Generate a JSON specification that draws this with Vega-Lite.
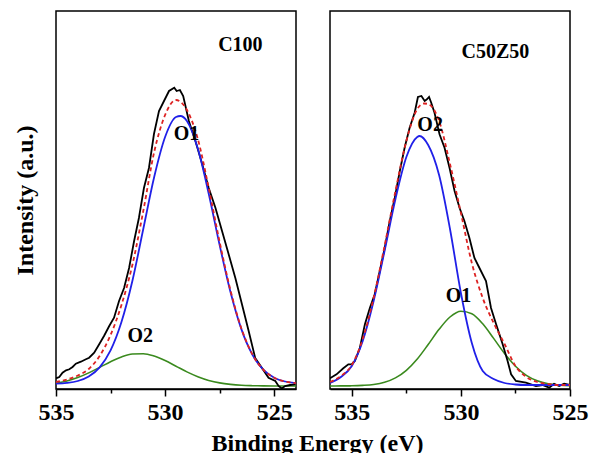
{
  "$schema": "https://vega.github.io/schema/vega-lite/v6.json",
  "background": "white",
  "padding": {"left": 12, "top": 10, "right": 0, "bottom": 0},
  "bounds": "flush",
  "spacing": 34,
  "config": {
    "view": {"stroke": "black", "strokeWidth": 1.5},
    "font": "Liberation Serif",
    "axis": {
      "grid": false,
      "labelFont": "Liberation Serif",
      "labelFontWeight": "bold",
      "labelFontSize": 24,
      "labelColor": "black",
      "titleFont": "Liberation Serif",
      "titleFontWeight": "bold",
      "titleFontSize": 24,
      "titleColor": "black",
      "domainColor": "black",
      "domainWidth": 1.5,
      "tickColor": "black",
      "tickWidth": 1.5
    }
  },
  "datasets": {
    "c100": [
      {"series": "measured", "energy": 535.00, "intensity": 10.7},
      {"series": "measured", "energy": 534.85, "intensity": 12.0},
      {"series": "measured", "energy": 534.70, "intensity": 16.3},
      {"series": "measured", "energy": 534.54, "intensity": 18.7},
      {"series": "measured", "energy": 534.39, "intensity": 19.7},
      {"series": "measured", "energy": 534.24, "intensity": 22.0},
      {"series": "measured", "energy": 534.09, "intensity": 25.3},
      {"series": "measured", "energy": 533.86, "intensity": 27.3},
      {"series": "measured", "energy": 533.63, "intensity": 29.7},
      {"series": "measured", "energy": 533.48, "intensity": 31.3},
      {"series": "measured", "energy": 533.25, "intensity": 36.3},
      {"series": "measured", "energy": 533.02, "intensity": 44.7},
      {"series": "measured", "energy": 532.80, "intensity": 53.0},
      {"series": "measured", "energy": 532.56, "intensity": 63.0},
      {"series": "measured", "energy": 532.34, "intensity": 71.3},
      {"series": "measured", "energy": 532.11, "intensity": 88.0},
      {"series": "measured", "energy": 531.88, "intensity": 101.0},
      {"series": "measured", "energy": 531.65, "intensity": 121.0},
      {"series": "measured", "energy": 531.42, "intensity": 148.0},
      {"series": "measured", "energy": 531.20, "intensity": 171.0},
      {"series": "measured", "energy": 530.97, "intensity": 201.0},
      {"series": "measured", "energy": 530.74, "intensity": 221.0},
      {"series": "measured", "energy": 530.51, "intensity": 255.0},
      {"series": "measured", "energy": 530.28, "intensity": 278.0},
      {"series": "measured", "energy": 530.05, "intensity": 288.0},
      {"series": "measured", "energy": 529.82, "intensity": 298.0},
      {"series": "measured", "energy": 529.58, "intensity": 301.3},
      {"series": "measured", "energy": 529.47, "intensity": 298.0},
      {"series": "measured", "energy": 529.32, "intensity": 299.0},
      {"series": "measured", "energy": 529.17, "intensity": 293.0},
      {"series": "measured", "energy": 528.91, "intensity": 268.0},
      {"series": "measured", "energy": 528.61, "intensity": 248.0},
      {"series": "measured", "energy": 528.30, "intensity": 225.0},
      {"series": "measured", "energy": 528.00, "intensity": 201.0},
      {"series": "measured", "energy": 527.69, "intensity": 181.0},
      {"series": "measured", "energy": 527.39, "intensity": 158.0},
      {"series": "measured", "energy": 527.09, "intensity": 135.0},
      {"series": "measured", "energy": 526.78, "intensity": 111.0},
      {"series": "measured", "energy": 526.48, "intensity": 85.0},
      {"series": "measured", "energy": 526.17, "intensity": 58.0},
      {"series": "measured", "energy": 525.87, "intensity": 31.0},
      {"series": "measured", "energy": 525.56, "intensity": 21.0},
      {"series": "measured", "energy": 525.26, "intensity": 11.3},
      {"series": "measured", "energy": 524.95, "intensity": 8.0},
      {"series": "measured", "energy": 524.80, "intensity": 3.0},
      {"series": "measured", "energy": 524.65, "intensity": 0.5},
      {"series": "measured", "energy": 524.50, "intensity": 3.0},
      {"series": "measured", "energy": 524.27, "intensity": 4.0},
      {"series": "measured", "energy": 524.04, "intensity": 4.7},

      {"series": "fit", "energy": 535.0, "intensity": 7.0},
      {"series": "fit", "energy": 534.5, "intensity": 9.5},
      {"series": "fit", "energy": 534.0, "intensity": 13.5},
      {"series": "fit", "energy": 533.5, "intensity": 20.0},
      {"series": "fit", "energy": 533.0, "intensity": 33.0},
      {"series": "fit", "energy": 532.5, "intensity": 54.0},
      {"series": "fit", "energy": 532.0, "intensity": 84.0},
      {"series": "fit", "energy": 531.5, "intensity": 124.0},
      {"series": "fit", "energy": 531.0, "intensity": 178.0},
      {"series": "fit", "energy": 530.5, "intensity": 237.0},
      {"series": "fit", "energy": 530.0, "intensity": 274.0},
      {"series": "fit", "energy": 529.5, "intensity": 289.0},
      {"series": "fit", "energy": 529.0, "intensity": 279.0},
      {"series": "fit", "energy": 528.5, "intensity": 250.0},
      {"series": "fit", "energy": 528.0, "intensity": 201.0},
      {"series": "fit", "energy": 527.5, "intensity": 147.0},
      {"series": "fit", "energy": 527.0, "intensity": 98.3},
      {"series": "fit", "energy": 526.5, "intensity": 60.3},
      {"series": "fit", "energy": 526.0, "intensity": 34.7},
      {"series": "fit", "energy": 525.5, "intensity": 19.4},
      {"series": "fit", "energy": 525.0, "intensity": 11.3},
      {"series": "fit", "energy": 524.5, "intensity": 7.5},
      {"series": "fit", "energy": 524.0, "intensity": 5.9},

      {"series": "O1", "energy": 535.0, "intensity": 5.4},
      {"series": "O1", "energy": 534.5, "intensity": 6.1},
      {"series": "O1", "energy": 534.0, "intensity": 8.0},
      {"series": "O1", "energy": 533.5, "intensity": 12.5},
      {"series": "O1", "energy": 533.0, "intensity": 21.7},
      {"series": "O1", "energy": 532.5, "intensity": 38.6},
      {"series": "O1", "energy": 532.0, "intensity": 67.0},
      {"series": "O1", "energy": 531.5, "intensity": 108.0},
      {"series": "O1", "energy": 531.0, "intensity": 160.0},
      {"series": "O1", "energy": 530.5, "intensity": 212.0},
      {"series": "O1", "energy": 530.0, "intensity": 252.0},
      {"series": "O1", "energy": 529.5, "intensity": 272.0},
      {"series": "O1", "energy": 529.3, "intensity": 273.0},
      {"series": "O1", "energy": 529.0, "intensity": 268.1},
      {"series": "O1", "energy": 528.5, "intensity": 240.4},
      {"series": "O1", "energy": 528.0, "intensity": 195.2},
      {"series": "O1", "energy": 527.5, "intensity": 143.9},
      {"series": "O1", "energy": 527.0, "intensity": 96.7},
      {"series": "O1", "energy": 526.5, "intensity": 59.6},
      {"series": "O1", "energy": 526.0, "intensity": 34.4},
      {"series": "O1", "energy": 525.5, "intensity": 19.3},
      {"series": "O1", "energy": 525.0, "intensity": 11.3},
      {"series": "O1", "energy": 524.5, "intensity": 7.5},
      {"series": "O1", "energy": 524.0, "intensity": 5.9},

      {"series": "O2", "energy": 535.0, "intensity": 5.7},
      {"series": "O2", "energy": 534.5, "intensity": 8.0},
      {"series": "O2", "energy": 534.0, "intensity": 11.4},
      {"series": "O2", "energy": 533.5, "intensity": 16.1},
      {"series": "O2", "energy": 533.0, "intensity": 21.6},
      {"series": "O2", "energy": 532.5, "intensity": 27.3},
      {"series": "O2", "energy": 532.0, "intensity": 32.1},
      {"series": "O2", "energy": 531.5, "intensity": 35.0},
      {"series": "O2", "energy": 531.0, "intensity": 35.3},
      {"series": "O2", "energy": 530.5, "intensity": 32.9},
      {"series": "O2", "energy": 530.0, "intensity": 28.4},
      {"series": "O2", "energy": 529.5, "intensity": 22.8},
      {"series": "O2", "energy": 529.0, "intensity": 17.1},
      {"series": "O2", "energy": 528.5, "intensity": 12.3},
      {"series": "O2", "energy": 528.0, "intensity": 8.6},
      {"series": "O2", "energy": 527.5, "intensity": 6.1},
      {"series": "O2", "energy": 527.0, "intensity": 4.6},
      {"series": "O2", "energy": 526.5, "intensity": 3.7},
      {"series": "O2", "energy": 526.0, "intensity": 3.3},
      {"series": "O2", "energy": 525.5, "intensity": 3.1},
      {"series": "O2", "energy": 525.0, "intensity": 3.0},
      {"series": "O2", "energy": 524.5, "intensity": 3.0},
      {"series": "O2", "energy": 524.0, "intensity": 3.0}
    ],
    "c50z50": [
      {"series": "measured", "energy": 536.00, "intensity": 10.7},
      {"series": "measured", "energy": 535.70, "intensity": 14.7},
      {"series": "measured", "energy": 535.39, "intensity": 20.7},
      {"series": "measured", "energy": 535.16, "intensity": 24.7},
      {"series": "measured", "energy": 535.01, "intensity": 24.7},
      {"series": "measured", "energy": 534.86, "intensity": 28.0},
      {"series": "measured", "energy": 534.63, "intensity": 41.3},
      {"series": "measured", "energy": 534.40, "intensity": 64.7},
      {"series": "measured", "energy": 534.17, "intensity": 81.3},
      {"series": "measured", "energy": 533.95, "intensity": 94.7},
      {"series": "measured", "energy": 533.72, "intensity": 118.0},
      {"series": "measured", "energy": 533.49, "intensity": 141.3},
      {"series": "measured", "energy": 533.26, "intensity": 168.0},
      {"series": "measured", "energy": 533.03, "intensity": 191.3},
      {"series": "measured", "energy": 532.80, "intensity": 218.0},
      {"series": "measured", "energy": 532.58, "intensity": 241.3},
      {"series": "measured", "energy": 532.35, "intensity": 261.3},
      {"series": "measured", "energy": 532.12, "intensity": 276.3},
      {"series": "measured", "energy": 531.97, "intensity": 292.0},
      {"series": "measured", "energy": 531.81, "intensity": 293.0},
      {"series": "measured", "energy": 531.66, "intensity": 288.0},
      {"series": "measured", "energy": 531.56, "intensity": 289.7},
      {"series": "measured", "energy": 531.46, "intensity": 292.0},
      {"series": "measured", "energy": 531.36, "intensity": 286.3},
      {"series": "measured", "energy": 531.21, "intensity": 276.3},
      {"series": "measured", "energy": 530.98, "intensity": 254.7},
      {"series": "measured", "energy": 530.75, "intensity": 241.3},
      {"series": "measured", "energy": 530.52, "intensity": 221.0},
      {"series": "measured", "energy": 530.29, "intensity": 198.0},
      {"series": "measured", "energy": 530.06, "intensity": 181.0},
      {"series": "measured", "energy": 529.84, "intensity": 168.0},
      {"series": "measured", "energy": 529.61, "intensity": 151.0},
      {"series": "measured", "energy": 529.38, "intensity": 131.0},
      {"series": "measured", "energy": 529.15, "intensity": 121.0},
      {"series": "measured", "energy": 528.85, "intensity": 108.0},
      {"series": "measured", "energy": 528.62, "intensity": 81.0},
      {"series": "measured", "energy": 528.39, "intensity": 65.0},
      {"series": "measured", "energy": 528.09, "intensity": 45.0},
      {"series": "measured", "energy": 527.86, "intensity": 28.0},
      {"series": "measured", "energy": 527.70, "intensity": 14.7},
      {"series": "measured", "energy": 527.48, "intensity": 8.0},
      {"series": "measured", "energy": 527.02, "intensity": 6.3},
      {"series": "measured", "energy": 526.56, "intensity": 3.0},
      {"series": "measured", "energy": 526.26, "intensity": 4.0},
      {"series": "measured", "energy": 525.95, "intensity": 1.3},
      {"series": "measured", "energy": 525.73, "intensity": 5.3},
      {"series": "measured", "energy": 525.50, "intensity": 3.0},
      {"series": "measured", "energy": 525.27, "intensity": 5.3},
      {"series": "measured", "energy": 525.00, "intensity": 4.0},

      {"series": "fit", "energy": 536.0, "intensity": 7.0},
      {"series": "fit", "energy": 535.5, "intensity": 13.0},
      {"series": "fit", "energy": 535.0, "intensity": 24.0},
      {"series": "fit", "energy": 534.5, "intensity": 50.0},
      {"series": "fit", "energy": 534.0, "intensity": 91.0},
      {"series": "fit", "energy": 533.5, "intensity": 143.0},
      {"series": "fit", "energy": 533.0, "intensity": 198.0},
      {"series": "fit", "energy": 532.5, "intensity": 248.0},
      {"series": "fit", "energy": 532.0, "intensity": 280.0},
      {"series": "fit", "energy": 531.7, "intensity": 285.5},
      {"series": "fit", "energy": 531.5, "intensity": 285.0},
      {"series": "fit", "energy": 531.0, "intensity": 268.0},
      {"series": "fit", "energy": 530.5, "intensity": 225.0},
      {"series": "fit", "energy": 530.0, "intensity": 176.0},
      {"series": "fit", "energy": 529.5, "intensity": 126.0},
      {"series": "fit", "energy": 529.0, "intensity": 91.0},
      {"series": "fit", "energy": 528.5, "intensity": 66.0},
      {"series": "fit", "energy": 528.0, "intensity": 45.0},
      {"series": "fit", "energy": 527.5, "intensity": 23.0},
      {"series": "fit", "energy": 527.0, "intensity": 12.0},
      {"series": "fit", "energy": 526.5, "intensity": 7.0},
      {"series": "fit", "energy": 526.0, "intensity": 5.0},
      {"series": "fit", "energy": 525.5, "intensity": 4.0},
      {"series": "fit", "energy": 525.0, "intensity": 4.0},

      {"series": "O2", "energy": 536.0, "intensity": 6.0},
      {"series": "O2", "energy": 535.5, "intensity": 12.0},
      {"series": "O2", "energy": 535.0, "intensity": 23.0},
      {"series": "O2", "energy": 534.5, "intensity": 48.0},
      {"series": "O2", "energy": 534.0, "intensity": 88.0},
      {"series": "O2", "energy": 533.5, "intensity": 138.0},
      {"series": "O2", "energy": 533.0, "intensity": 190.0},
      {"series": "O2", "energy": 532.5, "intensity": 232.0},
      {"series": "O2", "energy": 532.0, "intensity": 252.0},
      {"series": "O2", "energy": 531.9, "intensity": 253.0},
      {"series": "O2", "energy": 531.5, "intensity": 244.0},
      {"series": "O2", "energy": 531.0, "intensity": 214.0},
      {"series": "O2", "energy": 530.5, "intensity": 160.0},
      {"series": "O2", "energy": 530.0, "intensity": 96.0},
      {"series": "O2", "energy": 529.5, "intensity": 46.0},
      {"series": "O2", "energy": 529.0, "intensity": 18.0},
      {"series": "O2", "energy": 528.5, "intensity": 10.0},
      {"series": "O2", "energy": 528.0, "intensity": 6.0},
      {"series": "O2", "energy": 527.5, "intensity": 4.5},
      {"series": "O2", "energy": 527.0, "intensity": 4.0},
      {"series": "O2", "energy": 526.5, "intensity": 4.0},
      {"series": "O2", "energy": 526.0, "intensity": 4.0},
      {"series": "O2", "energy": 525.5, "intensity": 4.0},
      {"series": "O2", "energy": 525.0, "intensity": 4.0},

      {"series": "O1", "energy": 536.0, "intensity": 3.0},
      {"series": "O1", "energy": 535.5, "intensity": 3.1},
      {"series": "O1", "energy": 535.0, "intensity": 3.2},
      {"series": "O1", "energy": 534.5, "intensity": 3.6},
      {"series": "O1", "energy": 534.0, "intensity": 4.5},
      {"series": "O1", "energy": 533.5, "intensity": 6.7},
      {"series": "O1", "energy": 533.0, "intensity": 11.1},
      {"series": "O1", "energy": 532.5, "intensity": 18.7},
      {"series": "O1", "energy": 532.0, "intensity": 30.0},
      {"series": "O1", "energy": 531.5, "intensity": 44.5},
      {"series": "O1", "energy": 531.0, "intensity": 59.7},
      {"series": "O1", "energy": 530.5, "intensity": 72.0},
      {"series": "O1", "energy": 530.0, "intensity": 77.8},
      {"series": "O1", "energy": 529.5, "intensity": 75.3},
      {"series": "O1", "energy": 529.0, "intensity": 65.2},
      {"series": "O1", "energy": 528.5, "intensity": 50.6},
      {"series": "O1", "energy": 528.0, "intensity": 35.5},
      {"series": "O1", "energy": 527.5, "intensity": 22.8},
      {"series": "O1", "energy": 527.0, "intensity": 13.7},
      {"series": "O1", "energy": 526.5, "intensity": 8.2},
      {"series": "O1", "energy": 526.0, "intensity": 5.2},
      {"series": "O1", "energy": 525.5, "intensity": 3.9},
      {"series": "O1", "energy": 525.0, "intensity": 3.3}
    ],
    "labels": [
      {"panel": "C100", "label": "C100", "energy": 526.55, "intensity": 344},
      {"panel": "C100", "label": "O1", "energy": 529.02, "intensity": 255},
      {"panel": "C100", "label": "O2", "energy": 531.14, "intensity": 53},
      {"panel": "C50Z50", "label": "C50Z50", "energy": 528.42, "intensity": 337},
      {"panel": "C50Z50", "label": "O2", "energy": 531.41, "intensity": 264},
      {"panel": "C50Z50", "label": "O1", "energy": 530.11, "intensity": 93}
    ]
  },
  "hconcat": [
    {
      "width": 240,
      "height": 378,
      "data": {"name": "c100"},
      "encoding": {
        "x": {
          "field": "energy", "type": "quantitative",
          "scale": {"domain": [524, 535], "reverse": true, "nice": false, "zero": false},
          "axis": {
            "values": [535, 532.5, 530, 527.5, 525],
            "labelExpr": "datum.value % 5 === 0 ? datum.label : ''",
            "tickSize": {"condition": {"test": "datum.value % 5 === 0", "value": 7}, "value": 4},
            "labelPadding": 4,
            "labelFlush": false,
            "title": "Binding Energy (eV)",
            "titleX": 261,
            "titleY": 61,
            "titleAlign": "center",
            "titleBaseline": "alphabetic"
          }
        },
        "y": {
          "field": "intensity", "type": "quantitative",
          "scale": {"domain": [0, 378], "nice": false, "zero": false},
          "axis": {"title": "Intensity (a.u.)", "labels": false, "ticks": false, "domain": false, "titlePadding": 19}
        }
      },
      "layer": [
        {"transform": [{"filter": "datum.series === 'O2'"}], "mark": {"type": "line", "color": "#3a8a1e", "strokeWidth": 1.6, "interpolate": "monotone", "clip": true}},
        {"transform": [{"filter": "datum.series === 'measured'"}], "mark": {"type": "line", "color": "black", "strokeWidth": 1.8, "clip": true}},
        {"transform": [{"filter": "datum.series === 'O1'"}], "mark": {"type": "line", "color": "#2020e8", "strokeWidth": 1.8, "interpolate": "monotone", "clip": true}},
        {"transform": [{"filter": "datum.series === 'fit'"}], "mark": {"type": "line", "color": "#dd2222", "strokeWidth": 1.8, "strokeDash": [4, 3], "interpolate": "monotone", "clip": true}},
        {
          "data": {"name": "labels"},
          "transform": [{"filter": "datum.panel === 'C100'"}],
          "mark": {"type": "text", "font": "Liberation Serif", "fontWeight": "bold", "fontSize": 20, "color": "black"},
          "encoding": {"text": {"field": "label", "type": "nominal"}}
        }
      ]
    },
    {
      "width": 240,
      "height": 378,
      "data": {"name": "c50z50"},
      "encoding": {
        "x": {
          "field": "energy", "type": "quantitative",
          "scale": {"domain": [525, 536], "reverse": true, "nice": false, "zero": false},
          "axis": {
            "values": [535, 532.5, 530, 527.5, 525],
            "labelExpr": "datum.value % 5 === 0 ? datum.label : ''",
            "tickSize": {"condition": {"test": "datum.value % 5 === 0", "value": 7}, "value": 4},
            "labelPadding": 4,
            "labelFlush": false,
            "title": null
          }
        },
        "y": {
          "field": "intensity", "type": "quantitative",
          "scale": {"domain": [0, 378], "nice": false, "zero": false},
          "axis": null
        }
      },
      "layer": [
        {"transform": [{"filter": "datum.series === 'O1'"}], "mark": {"type": "line", "color": "#3a8a1e", "strokeWidth": 1.6, "interpolate": "monotone", "clip": true}},
        {"transform": [{"filter": "datum.series === 'measured'"}], "mark": {"type": "line", "color": "black", "strokeWidth": 1.8, "clip": true}},
        {"transform": [{"filter": "datum.series === 'O2'"}], "mark": {"type": "line", "color": "#2020e8", "strokeWidth": 1.8, "interpolate": "monotone", "clip": true}},
        {"transform": [{"filter": "datum.series === 'fit'"}], "mark": {"type": "line", "color": "#dd2222", "strokeWidth": 1.8, "strokeDash": [4, 3], "interpolate": "monotone", "clip": true}},
        {
          "data": {"name": "labels"},
          "transform": [{"filter": "datum.panel === 'C50Z50'"}],
          "mark": {"type": "text", "font": "Liberation Serif", "fontWeight": "bold", "fontSize": 20, "color": "black"},
          "encoding": {"text": {"field": "label", "type": "nominal"}}
        }
      ]
    }
  ]
}
